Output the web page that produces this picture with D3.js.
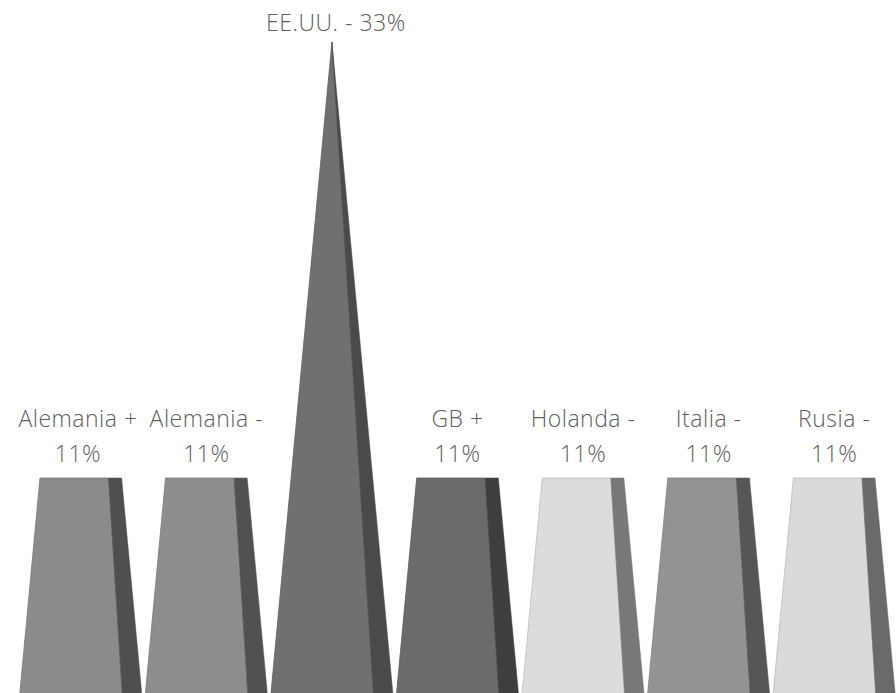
<!DOCTYPE html>
<html>
<head>
<meta charset="utf-8">
<script src="https://cdn.jsdelivr.net/npm/d3@7"></script>
<style>
  body { margin: 0; background: #fff; }
  .lbl { font-family: "Open Sans", "Segoe UI", sans-serif; font-weight: 300; fill: #5e5e5e; letter-spacing: 0.5px; }
</style>
</head>
<body>
<div id="chart"></div>
<script>
// Pyramid chart, truncated at each value

var categories = ["Alemania +", "Alemania -", "EE.UU. -", "GB +", "Holanda -", "Italia -", "Rusia -"];
var values = [11, 11, 33, 11, 11, 11, 11];
var frontColors = ["#8b8b8b", "#8d8d8d", "#707070", "#6b6b6b", "#dcdcdc", "#939393", "#dadada"];
var sideColors = ["#4f4f4f", "#515151", "#4a4a4a", "#3e3e3e", "#787878", "#565656", "#6a6a6a"];

var WIDTH = 896;
var HEIGHT = 693;
var BASE_Y = 696;
var APEX_Y = 42;
var FRONT = 0.68;   // share of the half width the front face takes on the right
var FONT = 23;
var LABEL_GAP = 12;

var svg = d3.select("#chart").append("svg")
    .attr("width", WIDTH)
    .attr("height", HEIGHT);

var maxVal = d3.max(values);

var x = d3.scaleBand()
    .domain(categories)
    .range([18, 897])
    .paddingInner(0.025)
    .paddingOuter(0.0125);

var y = d3.scaleLinear()
    .domain([0, maxVal])
    .range([BASE_Y, APEX_Y]);

var bars = categories.map(function(c, i) {
    return { name: c, value: values[i], front: frontColors[i], side: sideColors[i] };
});

function geom(d) {
    var cx = x(d.name) + x.bandwidth() / 2;
    var hw = x.bandwidth() / 2;
    var k = 1 - d.value / maxVal;
    return { cx: cx, hw: hw, k: k, top: y(d.value), base: y(0) };
}

function frontPoints(d) {
    var g = geom(d);
    return [
        [g.cx - g.hw, g.base],
        [g.cx + FRONT * g.hw, g.base],
        [g.cx + FRONT * g.hw * g.k, g.top],
        [g.cx - g.hw * g.k, g.top]
    ].join(" ");
}

function sidePoints(d) {
    var g = geom(d);
    return [
        [g.cx + FRONT * g.hw, g.base],
        [g.cx + g.hw, g.base],
        [g.cx + g.hw * g.k, g.top],
        [g.cx + FRONT * g.hw * g.k, g.top]
    ].join(" ");
}

var nodes = svg.selectAll("g.bar")
    .data(bars)
    .enter()
    .append("g")
    .attr("class", "bar");

nodes.append("polygon")
    .attr("points", frontPoints)
    .attr("fill", function(d) { return d.front; })
    .attr("stroke", function(d) { return d3.color(d.front).darker(0.4); })
    .attr("stroke-width", 0.8);

nodes.append("polygon")
    .attr("points", sidePoints)
    .attr("fill", function(d) { return d.side; })
    .attr("stroke", function(d) { return d.side; })
    .attr("stroke-width", 0.5);

// labels: single line on the top of the tallest one, two lines elsewhere
var wrapped = [];

nodes.each(function(d) {
    var g = geom(d);
    var t = d3.select(this).append("text")
        .attr("class", "lbl")
        .attr("text-anchor", "middle")
        .attr("font-size", FONT)
        .attr("x", g.cx);
    if (d.value === maxVal) {
        t.attr("x", g.cx + 4)
            .attr("y", g.top - 11)
            .text(d.name + " " + d.value + "%");
    } else {
        t.append("tspan")
            .attr("x", g.cx)
            .attr("y", g.top - 51)
            .text(d.name);
        t.append("tspan")
            .attr("x", g.cx)
            .attr("y", g.top - 16)
            .text(d.value + "%");
        wrapped.push({ text: t, cx: g.cx });
    }
});

// push a label to the left when it runs into its neighbour
for (var i = wrapped.length - 2; i >= 0; i--) {
    var a = wrapped[i].text.node().getBBox();
    var b = wrapped[i + 1].text.node().getBBox();
    var over = a.x + a.width + LABEL_GAP - b.x;
    if (over > 0) {
        wrapped[i].text.selectAll("tspan")
            .attr("x", wrapped[i].cx - over);
    }
}
</script>
</body>
</html>
